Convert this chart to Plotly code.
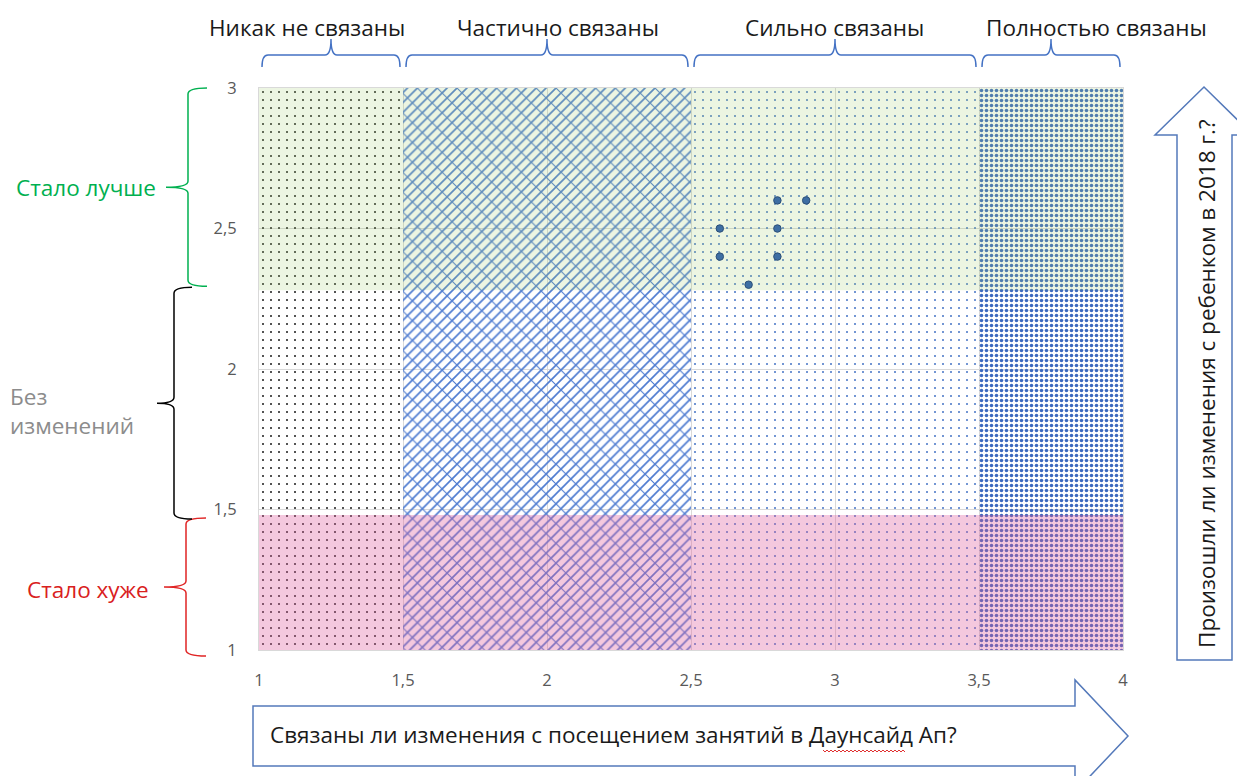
import plotly.graph_objects as go

# ---------------- data ----------------
col_edges = [1, 1.5, 2.5, 3.5, 4]
col_labels = ["Никак не связаны", "Частично связаны", "Сильно связаны", "Полностью связаны"]
band_edges = [1, 1.48, 2.28, 3]
band_labels = ["Стало хуже", "Без изменений", "Стало лучше"]
points_x = [2.6, 2.6, 2.8, 2.9, 2.8, 2.8, 2.7]
points_y = [2.5, 2.4, 2.6, 2.6, 2.5, 2.4, 2.3]
x_ticks = [1, 1.5, 2, 2.5, 3, 3.5, 4]
x_ticktext = ["1", "1,5", "2", "2,5", "3", "3,5", "4"]
y_ticks = [1, 1.5, 2, 2.5, 3]
y_ticktext = ["1", "1,5", "2", "2,5", "3"]
x_title = "Связаны ли изменения с посещением занятий в Даунсайд Ап?"
y_title = "Произошли ли изменения с ребенком в 2018 г.?"

# ---------------- geometry ----------------
W, H = 1237, 776
L, R, T, B = 259, 114, 88, 126
PW, PH = W - L - R, H - T - B
XR, YR = (1, 4), (1, 3)

def px_x(p):
    return (p - L) / PW

def px_y(p):
    return (H - B - p) / PH

def dx(x):
    return L + (x - XR[0]) / (XR[1] - XR[0]) * PW

def dy(y):
    return H - B - (y - YR[0]) / (YR[1] - YR[0]) * PH

def path(cmds):
    out = []
    for c in cmds:
        if isinstance(c, str):
            out.append(c)
        else:
            out.append(f"{px_x(c[0]):.5f},{px_y(c[1]):.5f}")
    return " ".join(out)

FONT = "Open Sans"
BLUE = "#4472C4"
LBL = 22.5

fig = go.Figure()

# pattern columns
patterns = [
    dict(shape=".", size=8, solidity=0.05, fgcolor="#1a1a1a"),
    dict(shape="/", size=7, solidity=0.24, fgcolor="#4E7BD0"),
    dict(shape=".", size=8, solidity=0.05, fgcolor=BLUE),
    dict(shape=".", size=5, solidity=0.4, fgcolor="#3C68BE"),
]
for i in range(4):
    x0, x1 = col_edges[i], col_edges[i + 1]
    fig.add_trace(go.Bar(
        x=[(x0 + x1) / 2], y=[YR[1] - YR[0]], base=[YR[0]], width=[x1 - x0],
        marker=dict(color="rgba(0,0,0,0)", line=dict(width=0),
                    pattern=dict(bgcolor="rgba(0,0,0,0)", fillmode="replace", **patterns[i])),
        hoverinfo="skip", showlegend=False,
    ))
# second layer for the brick look
x0, x1 = col_edges[1], col_edges[2]
fig.add_trace(go.Bar(
    x=[(x0 + x1) / 2], y=[YR[1] - YR[0]], base=[YR[0]], width=[x1 - x0],
    marker=dict(color="rgba(0,0,0,0)", line=dict(width=0),
                pattern=dict(shape="\\", size=14, solidity=0.08, fgcolor="#4E7BD0",
                             bgcolor="rgba(0,0,0,0)", fillmode="replace")),
    hoverinfo="skip", showlegend=False,
))

# colored bands (worse / better)
band_fill = ["rgba(224,95,158,0.34)", None, "rgba(160,205,110,0.2)"]
for i in range(3):
    if band_fill[i] is None:
        continue
    y0, y1 = band_edges[i], band_edges[i + 1]
    fig.add_trace(go.Scatter(
        x=[XR[0], XR[1], XR[1], XR[0], XR[0]], y=[y0, y0, y1, y1, y0],
        mode="lines", fill="toself", fillcolor=band_fill[i], line=dict(width=0),
        hoverinfo="skip", showlegend=False,
    ))

# data points
fig.add_trace(go.Scatter(
    x=points_x, y=points_y, mode="markers",
    marker=dict(size=7.5, color="#3E6EA3", line=dict(color="#2C4F78", width=1)),
    showlegend=False,
))

shapes = []
annotations = []

# top braces and labels
label_px = [307, 558, 834, 1096]
for i in range(4):
    a = dx(col_edges[i]) + 3
    b = dx(col_edges[i + 1]) - 3
    m = (dx(col_edges[i]) + dx(col_edges[i + 1])) / 2
    yb, yl, yt, r = 67, 55, 39, 6
    shapes.append(dict(type="path", xref="paper", yref="paper",
                       path=path(["M", (a, yb), "Q", (a, yl), (a + r, yl), "L", (m - r, yl),
                                  "Q", (m, yl), (m, yt), "Q", (m, yl), (m + r, yl),
                                  "L", (b - r, yl), "Q", (b, yl), (b, yb)]),
                       line=dict(color=BLUE, width=1.5)))
    annotations.append(dict(x=px_x(label_px[i]), y=px_y(27), xref="paper", yref="paper",
                            text=col_labels[i], showarrow=False, xanchor="center", yanchor="middle",
                            font=dict(family=FONT, size=LBL, color="#1a1a1a")))

# left braces and labels
brace_cfg = [
    dict(xe=206, xl=186, xt=164, color="#E02525"),
    dict(xe=192, xl=174, xt=157, color="#000000"),
    dict(xe=207, xl=188, xt=166, color="#00B050"),
]
brace_px = [(dy(band_edges[1]) + 3, dy(band_edges[0]) + 6),
            (dy(band_edges[2]) - 3, dy(band_edges[1]) + 4),
            (dy(band_edges[3]), dy(band_edges[2]) - 4)]
for i in range(3):
    c = brace_cfg[i]
    ytop, ybot = brace_px[i]
    ym = (ytop + ybot) / 2
    r = 6
    shapes.append(dict(type="path", xref="paper", yref="paper",
                       path=path(["M", (c["xe"], ytop), "Q", (c["xl"], ytop), (c["xl"], ytop + r),
                                  "L", (c["xl"], ym - r), "Q", (c["xl"], ym), (c["xt"], ym),
                                  "Q", (c["xl"], ym), (c["xl"], ym + r),
                                  "L", (c["xl"], ybot - r), "Q", (c["xl"], ybot), (c["xe"], ybot)]),
                       line=dict(color=c["color"], width=1.5)))

annotations.append(dict(x=px_x(158), y=px_y(187), xref="paper", yref="paper", text=band_labels[2],
                        showarrow=False, xanchor="right", yanchor="middle",
                        font=dict(family=FONT, size=LBL, color="#00B050")))
annotations.append(dict(x=px_x(8), y=px_y(411), xref="paper", yref="paper",
                        text=band_labels[1].replace(" ", "<br>"), align="left",
                        showarrow=False, xanchor="left", yanchor="middle",
                        font=dict(family=FONT, size=LBL, color="#8C8C8C")))
annotations.append(dict(x=px_x(151), y=px_y(589), xref="paper", yref="paper", text=band_labels[0],
                        showarrow=False, xanchor="right", yanchor="middle",
                        font=dict(family=FONT, size=LBL, color="#D92020")))

# arrows
ARROW = "#5479BA"
shapes.append(dict(type="path", xref="paper", yref="paper",
                   path=path(["M", (253, 706), "L", (1075, 706), "L", (1075, 680), "L", (1128, 736),
                              "L", (1075, 792), "L", (1075, 766), "L", (253, 766), "Z"]),
                   line=dict(color=ARROW, width=1.5), fillcolor="white", layer="below"))
shapes.append(dict(type="path", xref="paper", yref="paper",
                   path=path(["M", (1177, 660), "L", (1177, 135), "L", (1155, 135), "L", (1204, 87),
                              "L", (1253, 135), "L", (1232, 135), "L", (1232, 660), "Z"]),
                   line=dict(color=ARROW, width=1.5), fillcolor="white", layer="below"))
annotations.append(dict(x=px_x(268), y=px_y(734), xref="paper", yref="paper", text=x_title,
                        showarrow=False, xanchor="left", yanchor="middle",
                        font=dict(family=FONT, size=LBL, color="#1a1a1a")))
annotations.append(dict(x=px_x(1206), y=px_y(384), xref="paper", yref="paper", text=y_title,
                        showarrow=False, textangle=-90, xanchor="center", yanchor="middle",
                        font=dict(family=FONT, size=LBL, color="#1a1a1a")))
# spell-check squiggle under "Даунсайд"
sq = ["M", (823, 750)]
xx, k = 823, 0
while xx < 905:
    xx += 2
    k ^= 1
    sq += ["L", (xx, 750 + 2 * k)]
shapes.append(dict(type="path", xref="paper", yref="paper", path=path(sq),
                   line=dict(color="#E03030", width=1)))

fig.update_layout(
    width=W, height=H,
    margin=dict(l=L, r=R, t=T, b=B, pad=0),
    paper_bgcolor="white", plot_bgcolor="white",
    barmode="overlay", bargap=0,
    shapes=shapes, annotations=annotations,
    showlegend=False,
    xaxis=dict(range=list(XR), tickvals=x_ticks, ticktext=x_ticktext, showgrid=True,
               gridcolor="#D9D9D9", gridwidth=1, zeroline=False, showline=True, mirror=True,
               linecolor="#D9D9D9", ticks="", ticklabelstandoff=15,
               tickfont=dict(family=FONT, size=16.5, color="#595959"), fixedrange=True),
    yaxis=dict(range=list(YR), tickvals=y_ticks, ticktext=y_ticktext, showgrid=True,
               gridcolor="#D9D9D9", gridwidth=1, zeroline=False, showline=True, mirror=True,
               linecolor="#D9D9D9", ticks="", ticklabelstandoff=18,
               tickfont=dict(family=FONT, size=16.5, color="#595959"), fixedrange=True),
)

fig.write_html("out.html", config={"displayModeBar": False},
               post_script="document.body.style.margin='0';")
